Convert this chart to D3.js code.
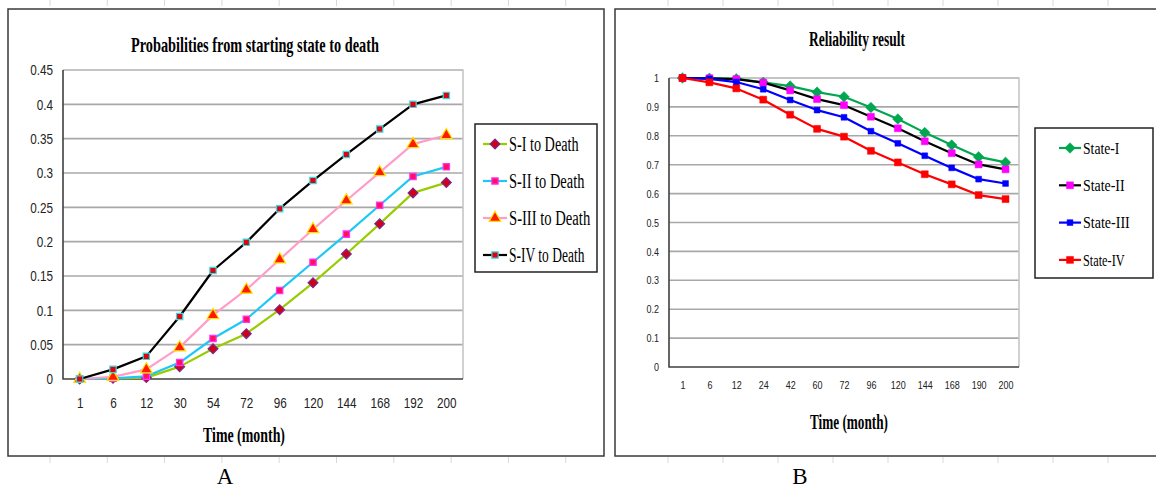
<!DOCTYPE html>
<html>
<head>
<meta charset="utf-8">
<script src="https://cdn.jsdelivr.net/npm/d3@7"></script>
<style>
  body { margin: 0; background: #fff; }
  svg { display: block; }
</style>
</head>
<body>
<svg id="fig" width="1156" height="488"></svg>
<script>
// ---- data, panel A ----
const monthsA = ["1", "6", "12", "30", "54", "72", "96", "120", "144", "168", "192", "200"];
const ticksA = [0, 0.05, 0.1, 0.15, 0.2, 0.25, 0.3, 0.35, 0.4, 0.45];
const sIToDeath   = [0, 0.001, 0.002, 0.018, 0.044, 0.066, 0.101, 0.140, 0.182, 0.226, 0.271, 0.286];
const sIIToDeath  = [0, 0.001, 0.004, 0.024, 0.059, 0.087, 0.129, 0.170, 0.211, 0.253, 0.295, 0.309];
const sIIIToDeath = [0, 0.003, 0.014, 0.046, 0.093, 0.130, 0.174, 0.218, 0.260, 0.301, 0.342, 0.355];
const sIVToDeath  = [0, 0.014, 0.033, 0.091, 0.158, 0.199, 0.248, 0.289, 0.327, 0.364, 0.400, 0.413];

// ---- data, panel B ----
const monthsB = ["1", "6", "12", "24", "42", "60", "72", "96", "120", "144", "168", "190", "200"];
const ticksB = [0, 0.1, 0.2, 0.3, 0.4, 0.5, 0.6, 0.7, 0.8, 0.9, 1];
const stateI   = [1, 0.999, 0.997, 0.985, 0.972, 0.951, 0.935, 0.898, 0.858, 0.811, 0.768, 0.727, 0.708];
const stateII  = [1, 0.999, 0.996, 0.984, 0.957, 0.927, 0.906, 0.866, 0.826, 0.781, 0.740, 0.701, 0.684];
const stateIII = [1, 0.997, 0.986, 0.961, 0.924, 0.889, 0.864, 0.816, 0.774, 0.731, 0.689, 0.650, 0.635];
const stateIV  = [1, 0.985, 0.964, 0.925, 0.873, 0.824, 0.797, 0.748, 0.708, 0.667, 0.632, 0.595, 0.581];

const svg = d3.select("#fig");
const serif = "'Liberation Serif', 'Times New Roman', serif";
const sans = "'Liberation Sans', Arial, sans-serif";

// faint page ruler marks behind everything
const ruler = svg.append("g").attr("stroke", "#d5d9e6").attr("stroke-width", 1);
d3.range(50, 600, 57.3).concat(d3.range(668, 1156, 55)).forEach(x => {
  ruler.append("line").attr("x1", x).attr("x2", x).attr("y1", 0).attr("y2", 6);
  ruler.append("line").attr("x1", x).attr("x2", x).attr("y1", 457).attr("y2", 463);
});

// squeeze text horizontally (the original uses narrow fonts)
function squeeze(sel, k) {
  sel.each(function () {
    const w = this.getComputedTextLength();
    d3.select(this).attr("textLength", w * k).attr("lengthAdjust", "spacingAndGlyphs");
  });
}

function marker(g, m) {
  const p = g.append("path")
    .attr("d", d3.symbol().type(m.type === "tri" ? d3.symbolTriangle : d3.symbolSquare).size(m.size)())
    .attr("fill", m.fill)
    .attr("stroke", m.stroke)
    .attr("stroke-width", m.sw || 1.2);
  if (m.type === "diamond") p.attr("transform", "rotate(45)");
  return p;
}

function drawChart(cfg) {
  const g = svg.append("g");

  // panel frame
  g.append("rect")
    .attr("x", cfg.frame[0]).attr("y", cfg.frame[1])
    .attr("width", cfg.frame[2]).attr("height", cfg.frame[3])
    .attr("fill", "none").attr("stroke", "#3a3a3a").attr("stroke-width", 1.5);

  const x = d3.scalePoint().domain(cfg.cats).range([cfg.left, cfg.right]).padding(0.5);
  const y = d3.scaleLinear().domain([0, cfg.ymax]).range([cfg.bottom, cfg.top]);

  // grid
  g.append("g").selectAll("line").data(cfg.ticks.filter(t => t > 0)).join("line")
    .attr("x1", cfg.left).attr("x2", cfg.right)
    .attr("y1", d => y(d)).attr("y2", d => y(d))
    .attr("stroke", "#a8a8a8").attr("stroke-width", 1.6);

  // plot box: light top / right, dark left / bottom
  g.append("path")
    .attr("d", `M${cfg.left},${cfg.top}H${cfg.right}V${cfg.bottom}`)
    .attr("fill", "none").attr("stroke", "#c6c6c6").attr("stroke-width", 1.6);
  g.append("path")
    .attr("d", `M${cfg.left},${cfg.top}V${cfg.bottom}H${cfg.right}`)
    .attr("fill", "none").attr("stroke", "#404040").attr("stroke-width", 1.6);

  // y axis labels
  const yAxis = g.append("g")
    .attr("transform", `translate(${cfg.left - cfg.yLabelGap},0)`)
    .call(d3.axisLeft(y).tickValues(cfg.ticks).tickSize(0).tickPadding(0).tickFormat(d => String(+d.toFixed(2))));
  yAxis.select(".domain").remove();
  yAxis.selectAll("text").attr("font-family", sans).attr("font-size", cfg.tickSize).attr("fill", "#222")
    .call(squeeze, 0.78);

  // x axis labels
  const xAxis = g.append("g")
    .attr("transform", `translate(0,${cfg.bottom})`)
    .call(d3.axisBottom(x).tickSize(0).tickPadding(cfg.xLabelGap));
  xAxis.select(".domain").remove();
  xAxis.selectAll("text").attr("font-family", sans).attr("font-size", cfg.tickSize).attr("fill", "#222")
    .call(squeeze, 0.78);

  // titles
  g.append("text")
    .attr("x", cfg.titleX).attr("y", cfg.titleY)
    .attr("text-anchor", "middle")
    .attr("font-family", serif).attr("font-weight", "bold").attr("font-size", cfg.titleSize)
    .attr("textLength", cfg.titleLen).attr("lengthAdjust", "spacingAndGlyphs")
    .text(cfg.title);
  g.append("text")
    .attr("x", cfg.xTitleX).attr("y", cfg.xTitleY)
    .attr("text-anchor", "middle")
    .attr("font-family", serif).attr("font-weight", "bold").attr("font-size", cfg.xTitleSize)
    .attr("textLength", cfg.xTitleLen).attr("lengthAdjust", "spacingAndGlyphs")
    .text("Time (month)");

  // series
  const line = d3.line().x((d, i) => x(cfg.cats[i])).y(d => y(d));
  cfg.series.forEach(s => {
    g.append("path").datum(s.values)
      .attr("d", line)
      .attr("fill", "none").attr("stroke", s.color).attr("stroke-width", 2.2)
      .attr("stroke-linejoin", "round");
    s.values.forEach((v, i) => {
      const mg = g.append("g").attr("transform", `translate(${x(cfg.cats[i])},${y(v)})`);
      marker(mg, s.marker);
    });
  });

  // legend
  const L = cfg.legend;
  g.append("rect")
    .attr("x", L.x).attr("y", L.y).attr("width", L.w).attr("height", L.h)
    .attr("fill", "#fff").attr("stroke", "#222").attr("stroke-width", 1.5);
  cfg.series.forEach((s, i) => {
    const ly = L.firstY + i * L.step;
    g.append("line")
      .attr("x1", L.lineX).attr("x2", L.lineX + L.lineW)
      .attr("y1", ly).attr("y2", ly)
      .attr("stroke", s.color).attr("stroke-width", 2.2);
    marker(g.append("g").attr("transform", `translate(${L.lineX + L.lineW / 2},${ly})`), s.marker);
    g.append("text")
      .attr("x", L.lineX + L.lineW + 2).attr("y", ly)
      .attr("dy", "0.33em")
      .attr("font-family", serif).attr("font-size", L.fontSize)
      .attr("textLength", s.name.length * L.charW).attr("lengthAdjust", "spacingAndGlyphs")
      .text(s.name);
  });

  // panel letter
  g.append("text")
    .attr("x", cfg.letterX).attr("y", 484)
    .attr("text-anchor", "middle")
    .attr("font-family", serif).attr("font-size", 23)
    .text(cfg.letter);
}

drawChart({
  frame: [8, 9, 596, 447],
  left: 63, right: 463, top: 70, bottom: 379,
  cats: monthsA, ticks: ticksA, ymax: 0.45,
  tickSize: 15, yLabelGap: 10, xLabelGap: 18,
  title: "Probabilities from starting state to death",
  titleX: 255, titleY: 52, titleSize: 22, titleLen: 248,
  xTitleX: 244, xTitleY: 442, xTitleSize: 20, xTitleLen: 82,
  letter: "A", letterX: 225,
  series: [
    { name: "S-I to Death", values: sIToDeath, color: "#99cc00",
      marker: { type: "diamond", size: 48, fill: "#d0001a", stroke: "#7a2a8a" } },
    { name: "S-II to Death", values: sIIToDeath, color: "#1ec8f5",
      marker: { type: "square", size: 40, fill: "#ff1060", stroke: "#ff33ff" } },
    { name: "S-III to Death", values: sIIIToDeath, color: "#ff9cc8",
      marker: { type: "tri", size: 60, fill: "#ff1a00", stroke: "#ffe000" } },
    { name: "S-IV to Death", values: sIVToDeath, color: "#000",
      marker: { type: "square", size: 40, fill: "#e00010", stroke: "#33dddd" } }
  ],
  legend: { x: 475, y: 124, w: 122, h: 148, firstY: 144, step: 37,
            lineX: 483, lineW: 24, fontSize: 20, charW: 5.8 }
});

drawChart({
  frame: [615, 9, 560, 447],
  left: 669, right: 1019, top: 78, bottom: 367,
  cats: monthsB, ticks: ticksB, ymax: 1,
  tickSize: 11.5, yLabelGap: 10, xLabelGap: 14,
  title: "Reliability result",
  titleX: 857, titleY: 46, titleSize: 20, titleLen: 96,
  xTitleX: 849, xTitleY: 429, xTitleSize: 20, xTitleLen: 78,
  letter: "B", letterX: 800,
  series: [
    { name: "State-I", values: stateI, color: "#00a650",
      marker: { type: "diamond", size: 56, fill: "#00a650", stroke: "#00a650", sw: 0.5 } },
    { name: "State-II", values: stateII, color: "#000",
      marker: { type: "square", size: 48, fill: "#ff00ff", stroke: "#ff00ff", sw: 0.5 } },
    { name: "State-III", values: stateIII, color: "#0000ff",
      marker: { type: "square", size: 34, fill: "#0000ff", stroke: "#0000ff", sw: 0.5 } },
    { name: "State-IV", values: stateIV, color: "#ff0000",
      marker: { type: "square", size: 48, fill: "#ff0000", stroke: "#ff0000", sw: 0.5 } }
  ],
  legend: { x: 1035, y: 128, w: 118, h: 150, firstY: 148, step: 37.3,
            lineX: 1059, lineW: 22, fontSize: 17.5, charW: 5.2 }
});
</script>
</body>
</html>
